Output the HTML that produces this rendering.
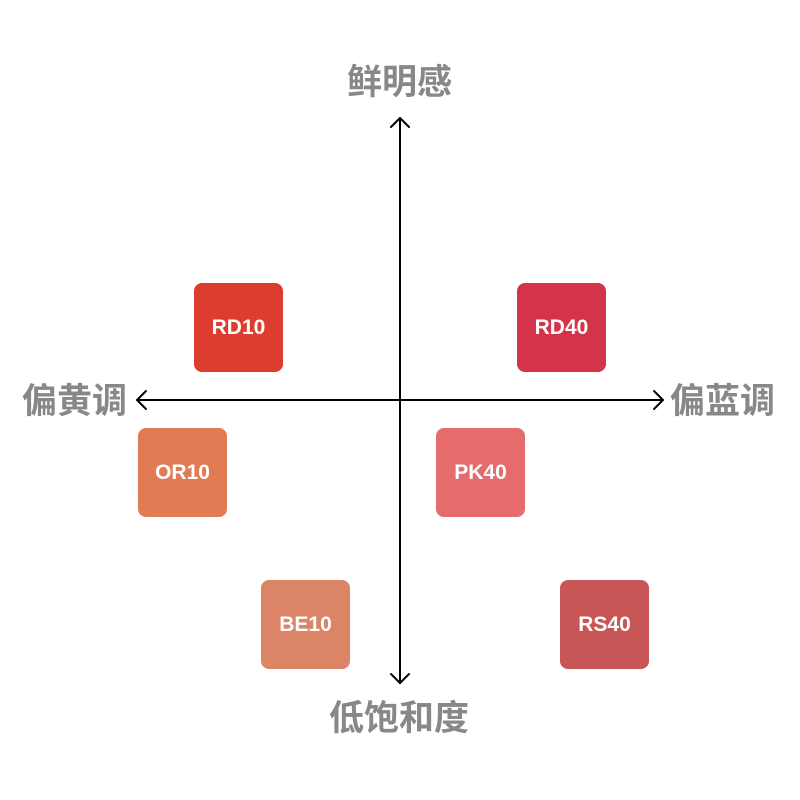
<!DOCTYPE html>
<html><head><meta charset="utf-8"><style>
html,body{margin:0;padding:0;background:#fff;}
body{width:800px;height:800px;position:relative;overflow:hidden;}
.l{position:absolute;font-family:"Liberation Sans","Noto Sans CJK SC",sans-serif;font-weight:bold;font-size:35px;color:#888;line-height:35px;white-space:nowrap;}
.b{position:absolute;width:89px;height:89px;border-radius:8px;color:#fff;font-family:"Liberation Sans",sans-serif;font-weight:bold;font-size:21px;display:flex;align-items:center;justify-content:center;}
</style></head><body>
<svg width="800" height="800" style="position:absolute;left:0;top:0">
<g stroke="#000" stroke-width="2" fill="none" stroke-linecap="round" stroke-linejoin="round">
<line x1="400" y1="118" x2="400" y2="683"/>
<line x1="137" y1="400" x2="663" y2="400"/>
<polyline points="391,127 400,118 409,127"/>
<polyline points="391,674 400,683 409,674"/>
<polyline points="146,391 137,400 146,409"/>
<polyline points="654,391 663,400 654,409"/>
</g></svg>
<div class="l" style="left:347px;top:65px">鲜明感</div>
<div class="l" style="left:22px;top:384px">偏黄调</div>
<div class="l" style="left:670px;top:384px">偏蓝调</div>
<div class="l" style="left:329px;top:701px">低饱和度</div>
<div class="b" style="left:194px;top:283px;background:#dc3d2f">RD10</div>
<div class="b" style="left:517px;top:283px;background:#d4344a">RD40</div>
<div class="b" style="left:138px;top:428px;background:#e07b54">OR10</div>
<div class="b" style="left:436px;top:428px;background:#e56b6d">PK40</div>
<div class="b" style="left:261px;top:580px;background:#dc8466">BE10</div>
<div class="b" style="left:560px;top:580px;background:#c95656">RS40</div>
</body></html>
